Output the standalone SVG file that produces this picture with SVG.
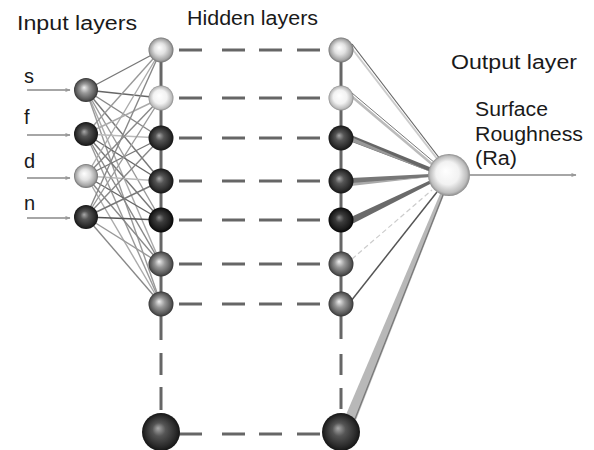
<svg xmlns="http://www.w3.org/2000/svg" width="594" height="450" viewBox="0 0 594 450">
  <defs>
    <style>
      .lbl { font-family: "Liberation Sans", Arial, sans-serif; font-size: 20px; fill: #1a1a1a; }
      .grid { stroke: #666; stroke-width: 3; fill: none; }
      .w { fill: none; stroke-width: 1.4; }
      .in-arrow { stroke: #888; stroke-width: 1.4; marker-end: url(#tip); }
    </style>
    <marker id="tip" viewBox="0 0 10 10" refX="9" refY="5" markerWidth="7" markerHeight="5" orient="auto" markerUnits="userSpaceOnUse">
      <path d="M0 1 L10 5 L0 9 z" fill="#999"/>
    </marker>
    <radialGradient id="gLight" cx="0.5" cy="0.5" r="0.5" fx="0.42" fy="0.4">
      <stop offset="0" stop-color="#ffffff"/>
      <stop offset="0.45" stop-color="#e2e2e2"/>
      <stop offset="0.85" stop-color="#a4a4a4"/>
      <stop offset="1" stop-color="#707070"/>
    </radialGradient>
    <radialGradient id="gWhite" cx="0.5" cy="0.5" r="0.5" fx="0.42" fy="0.4">
      <stop offset="0" stop-color="#ffffff"/>
      <stop offset="0.55" stop-color="#f2f2f2"/>
      <stop offset="0.88" stop-color="#bdbdbd"/>
      <stop offset="1" stop-color="#8a8a8a"/>
    </radialGradient>
    <radialGradient id="gMid" cx="0.5" cy="0.5" r="0.5" fx="0.42" fy="0.4">
      <stop offset="0" stop-color="#eeeeee"/>
      <stop offset="0.4" stop-color="#989898"/>
      <stop offset="0.85" stop-color="#555555"/>
      <stop offset="1" stop-color="#333333"/>
    </radialGradient>
    <radialGradient id="gDark" cx="0.5" cy="0.5" r="0.5" fx="0.42" fy="0.4">
      <stop offset="0" stop-color="#a8a8a8"/>
      <stop offset="0.35" stop-color="#555555"/>
      <stop offset="0.8" stop-color="#2b2b2b"/>
      <stop offset="1" stop-color="#151515"/>
    </radialGradient>
    <radialGradient id="gDarker" cx="0.5" cy="0.5" r="0.5" fx="0.42" fy="0.4">
      <stop offset="0" stop-color="#888888"/>
      <stop offset="0.35" stop-color="#3c3c3c"/>
      <stop offset="0.8" stop-color="#1b1b1b"/>
      <stop offset="1" stop-color="#050505"/>
    </radialGradient>
  </defs>

  <rect width="594" height="450" fill="#ffffff"/>

  <!-- headings -->
  <text class="lbl" x="17" y="30" textLength="120" lengthAdjust="spacingAndGlyphs">Input layers</text>
  <text class="lbl" x="187" y="25" textLength="131" lengthAdjust="spacingAndGlyphs">Hidden layers</text>
  <text class="lbl" x="451" y="69" textLength="126" lengthAdjust="spacingAndGlyphs">Output layer</text>
  <text class="lbl" x="475" y="116" font-size="19" textLength="73" lengthAdjust="spacingAndGlyphs">Surface</text>
  <text class="lbl" x="475" y="141" font-size="19" textLength="108" lengthAdjust="spacingAndGlyphs">Roughness</text>
  <text class="lbl" x="475" y="165" font-size="19" textLength="42" lengthAdjust="spacingAndGlyphs">(Ra)</text>

  <!-- input variable names -->
  <text class="lbl" x="24" y="83" font-size="19">s</text>
  <text class="lbl" x="24" y="124" font-size="19">f</text>
  <text class="lbl" x="24" y="168" font-size="19">d</text>
  <text class="lbl" x="24" y="210" font-size="19">n</text>

  <g id="connectors">
    <!-- input arrows -->
    <line class="in-arrow" x1="27" y1="90" x2="70" y2="90"/>
    <line class="in-arrow" x1="27" y1="135" x2="70" y2="135"/>
    <line class="in-arrow" x1="27" y1="178" x2="70" y2="178"/>
    <line class="in-arrow" x1="27" y1="218" x2="70" y2="218"/>

    <!-- input to first hidden layer (fully connected) -->
    <g class="w">
      <line x1="86" y1="90" x2="161" y2="50" stroke="#777"/>
      <line x1="86" y1="90" x2="161" y2="98" stroke="#666"/>
      <line x1="86" y1="90" x2="161" y2="138" stroke="#888"/>
      <line x1="86" y1="90" x2="161" y2="181" stroke="#777"/>
      <line x1="86" y1="90" x2="161" y2="220" stroke="#999"/>
      <line x1="86" y1="90" x2="161" y2="264" stroke="#aaa"/>
      <line x1="86" y1="90" x2="161" y2="304" stroke="#999"/>

      <line x1="86" y1="134" x2="161" y2="50" stroke="#999"/>
      <line x1="86" y1="134" x2="161" y2="98" stroke="#aaa"/>
      <line x1="86" y1="134" x2="161" y2="138" stroke="#bbb"/>
      <line x1="86" y1="134" x2="161" y2="181" stroke="#666"/>
      <line x1="86" y1="134" x2="161" y2="220" stroke="#777"/>
      <line x1="86" y1="134" x2="161" y2="264" stroke="#888"/>
      <line x1="86" y1="134" x2="161" y2="304" stroke="#999"/>

      <line x1="86" y1="176" x2="161" y2="50" stroke="#aaa"/>
      <line x1="86" y1="176" x2="161" y2="98" stroke="#888"/>
      <line x1="86" y1="176" x2="161" y2="138" stroke="#777"/>
      <line x1="86" y1="176" x2="161" y2="181" stroke="#bbb"/>
      <line x1="86" y1="176" x2="161" y2="220" stroke="#666"/>
      <line x1="86" y1="176" x2="161" y2="264" stroke="#888"/>
      <line x1="86" y1="176" x2="161" y2="304" stroke="#aaa"/>

      <line x1="86" y1="217" x2="161" y2="50" stroke="#888"/>
      <line x1="86" y1="217" x2="161" y2="98" stroke="#999"/>
      <line x1="86" y1="217" x2="161" y2="138" stroke="#888"/>
      <line x1="86" y1="217" x2="161" y2="181" stroke="#777"/>
      <line x1="86" y1="217" x2="161" y2="220" stroke="#555"/>
      <line x1="86" y1="217" x2="161" y2="264" stroke="#999"/>
      <line x1="86" y1="217" x2="161" y2="304" stroke="#888"/>
    </g>

    <!-- hidden layer columns -->
    <path class="grid" d="M161 50 V304 M161 304 V340 M161 353 V375 M161 387 V410"/>
    <path class="grid" d="M341 50 V304 M341 304 V339 M341 354 V375 M341 388 V409"/>

    <!-- dashed links between the two hidden layers -->
    <path class="grid" d="M179 50 H202 M222 50 H245 M259 50 H282 M297 50 H320
                          M179 98 H202 M222 98 H245 M259 98 H282 M297 98 H320
                          M179 138 H202 M222 138 H245 M259 138 H282 M297 138 H320
                          M179 181 H202 M222 181 H245 M259 181 H282 M297 181 H320
                          M179 220 H202 M222 220 H245 M259 220 H282 M297 220 H320
                          M179 264 H202 M222 264 H245 M259 264 H282 M297 264 H320
                          M179 304 H202 M222 304 H245 M259 304 H282 M297 304 H320
                          M179 434 H202 M222 434 H245 M259 434 H282 M297 434 H320"/>

    <!-- last hidden layer to output -->
    <line x1="350" y1="46" x2="438" y2="160" stroke="#ccc" stroke-width="2"/>
    <line x1="352" y1="44" x2="440" y2="159" stroke="#666" stroke-width="1.2"/>
    <line x1="350" y1="95" x2="433" y2="165" stroke="#bbb" stroke-width="2.5"/>
    <line x1="352" y1="93" x2="435" y2="163" stroke="#777" stroke-width="1"/>
    <polygon points="351,135 352,142 431,172 432,168" fill="#666"/>
    <polygon points="351,137 353,142 431,172" fill="#999"/>
    <polygon points="351,178 351,184 430,177 430,174" fill="#777"/>
    <polygon points="351,183 430,177 351,186" fill="#aaa"/>
    <polygon points="351,217 352,224 432,183 431,180" fill="#6a6a6a"/>
    <line x1="352" y1="259" x2="432" y2="190" stroke="#ccc" stroke-width="1.2" stroke-dasharray="5 3"/>
    <line x1="351" y1="301" x2="437" y2="192" stroke="#555" stroke-width="1.5"/>
    <polygon points="345,417 356,420 444,195 440,194" fill="#b8b8b8"/>
    <line x1="355" y1="419" x2="443" y2="195" stroke="#777" stroke-width="1.2"/>

    <!-- output arrow -->
    <line x1="470" y1="175" x2="576" y2="175" stroke="#888" stroke-width="1.4" marker-end="url(#tip)"/>
  </g>

  <!-- input layer -->
  <g id="in-s"><circle cx="86" cy="90" r="12" fill="url(#gMid)"/></g>
  <g id="in-f"><circle cx="86" cy="134" r="12" fill="url(#gDark)"/></g>
  <g id="in-d"><circle cx="86" cy="176" r="12" fill="url(#gLight)"/></g>
  <g id="in-n"><circle cx="86" cy="217" r="12" fill="url(#gDark)"/></g>

  <!-- first hidden layer -->
  <g id="h1-1"><circle cx="161" cy="50" r="12.5" fill="url(#gLight)"/></g>
  <g id="h1-2"><circle cx="161" cy="98" r="12.5" fill="url(#gWhite)"/></g>
  <g id="h1-3"><circle cx="161" cy="138" r="12.5" fill="url(#gDark)"/></g>
  <g id="h1-4"><circle cx="161" cy="181" r="12.5" fill="url(#gDark)"/></g>
  <g id="h1-5"><circle cx="161" cy="220" r="12.5" fill="url(#gDarker)"/></g>
  <g id="h1-6"><circle cx="161" cy="264" r="12.5" fill="url(#gMid)"/></g>
  <g id="h1-7"><circle cx="161" cy="304" r="12.5" fill="url(#gMid)"/></g>
  <g id="h1-n"><circle cx="161" cy="432" r="19" fill="url(#gDark)"/></g>

  <!-- last hidden layer -->
  <g id="h2-1"><circle cx="341" cy="50" r="12.5" fill="url(#gLight)"/></g>
  <g id="h2-2"><circle cx="341" cy="98" r="12.5" fill="url(#gWhite)"/></g>
  <g id="h2-3"><circle cx="341" cy="138" r="12.5" fill="url(#gDark)"/></g>
  <g id="h2-4"><circle cx="341" cy="181" r="12.5" fill="url(#gDark)"/></g>
  <g id="h2-5"><circle cx="341" cy="220" r="12.5" fill="url(#gDarker)"/></g>
  <g id="h2-6"><circle cx="341" cy="264" r="12.5" fill="url(#gMid)"/></g>
  <g id="h2-7"><circle cx="341" cy="304" r="12.5" fill="url(#gMid)"/></g>
  <g id="h2-n"><circle cx="341" cy="432" r="19" fill="url(#gDark)"/></g>

  <!-- output neuron -->
  <g id="out-ra"><circle cx="449" cy="175" r="21" fill="url(#gWhite)"/></g>
</svg>
